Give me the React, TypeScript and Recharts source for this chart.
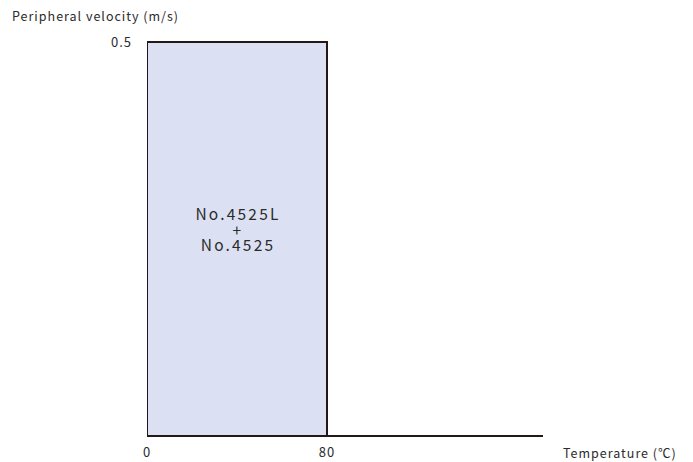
import { ComposedChart, Area, XAxis, YAxis } from "recharts";

// outline of the operating range: temperature (°C) vs peripheral velocity (m/s)
const temperatures = [0, 0, 80, 80];
const velocities = [0, 0.5, 0.5, 0];
const xTicks = [0, 80];
const yTicks = [0.5];
const xDomain = [0, 176];
const yDomain = [0, 0.5];
const rangeLabel = ["No.4525L", "+", "No.4525"];

const INK = "#231815";
const TEXT = "#2b2b2b";
const FILL = "#dbe1f2";
const FONT = "'Noto Sans CJK JP', 'Noto Sans', sans-serif";

const data = temperatures.map((t, i) => ({ t, v: velocities[i] }));

const tickStyle = {
  fontSize: 13,
  fill: TEXT,
  fontFamily: FONT,
  letterSpacing: 1,
};

export default function App() {
  return (
    <div
      style={{
        position: "absolute",
        left: 0,
        top: 0,
        width: 693,
        height: 462,
        background: "#fff",
        fontFamily: FONT,
      }}
    >
      <ComposedChart
        width={693}
        height={462}
        data={data}
        margin={{ top: 42, right: 150, bottom: 0, left: 0 }}
      >
        <XAxis
          type="number"
          dataKey="t"
          domain={xDomain}
          ticks={xTicks}
          allowDataOverflow
          height={26}
          axisLine={{ stroke: INK, strokeWidth: 2 }}
          tickLine={false}
          tickMargin={6}
          tick={tickStyle}
        />
        <YAxis
          type="number"
          domain={yDomain}
          ticks={yTicks}
          width={147}
          axisLine={false}
          tickLine={false}
          tickMargin={9}
          tick={tickStyle}
        />
        <Area
          type="linear"
          dataKey="v"
          stroke={INK}
          strokeWidth={2}
          fill={FILL}
          fillOpacity={1}
          baseValue={0}
          dot={false}
          activeDot={false}
          isAnimationActive={false}
        />
      </ComposedChart>
      <div
        style={{
          position: "absolute",
          left: 12,
          top: 6,
          fontSize: 12.5,
          letterSpacing: 1,
          color: TEXT,
          whiteSpace: "nowrap",
        }}
      >
        Peripheral velocity (m/s)
      </div>
      <div
        style={{
          position: "absolute",
          left: 563,
          top: 443,
          fontSize: 12.5,
          letterSpacing: 1,
          color: TEXT,
          whiteSpace: "nowrap",
        }}
      >
        Temperature (℃)
      </div>
      <div
        style={{
          position: "absolute",
          left: 148,
          width: 180,
          top: 206,
          textAlign: "center",
          fontSize: 15.5,
          letterSpacing: 2.2,
          lineHeight: "15.5px",
          color: TEXT,
        }}
      >
        {rangeLabel.map((s) => (
          <div key={s}>{s}</div>
        ))}
      </div>
    </div>
  );
}
